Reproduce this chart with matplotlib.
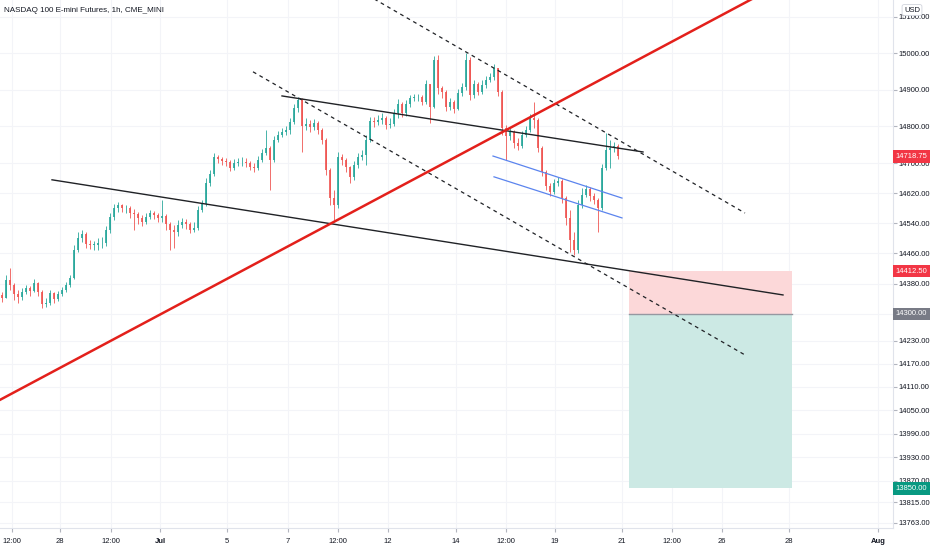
import numpy as np
import matplotlib
matplotlib.use("Agg")
import matplotlib.pyplot as plt
import matplotlib.transforms as mtrans
from matplotlib.patches import Rectangle
from matplotlib.ticker import FixedLocator, NullLocator

plt.rcParams['font.family'] = ['Liberation Sans', 'DejaVu Sans']

# NQ1! hourly candles (one candle per ~2.75h, bar index on x)
first_open = 14349
closes = [14342.5, 14390, 14376.5, 14353, 14345, 14358, 14369, 14361, 14382, 14358,
          14326.5, 14329, 14355.5, 14340, 14353, 14363.5, 14376.5, 14395, 14469, 14501,
          14511.5, 14485, 14482.5, 14482.5, 14487.5, 14487.5, 14522, 14557, 14581, 14589,
          14581, 14581, 14567.5, 14565, 14554, 14543.5, 14557, 14567.5, 14562, 14554,
          14559.5, 14538, 14522, 14517, 14535.5, 14543.5, 14538, 14522, 14527.5, 14575.5,
          14591.5, 14648, 14672, 14717.5, 14712, 14707, 14704, 14688, 14701.5, 14704,
          14704, 14701.5, 14690.5, 14688, 14709.5, 14728.5, 14742, 14709.5, 14763.5, 14777,
          14785.5, 14790.5, 14812.5, 14850.5, 14872, 14801.5, 14807, 14799, 14809.5, 14790.5,
          14763.5, 14682.5, 14607.5, 14589, 14717.5, 14709.5, 14690.5, 14664, 14696, 14717.5,
          14723, 14763.5, 14815, 14812.5, 14818, 14823, 14804, 14807, 14837, 14861.5,
          14837, 14861.5, 14877.5, 14880.5, 14880.5, 14867, 14916, 14853, 14981.5, 14905,
          14894, 14853, 14867, 14848, 14891.5, 14907.5, 14981.5, 14886, 14916, 14894,
          14913, 14927, 14935, 14959.5, 14894, 14796, 14774.5, 14785.5, 14755.5, 14747.5,
          14777, 14790.5, 14823, 14818, 14742, 14677, 14640, 14623.5, 14648, 14653,
          14607.5, 14554, 14495.5, 14469, 14589, 14615.5, 14631.5, 14613, 14602, 14581,
          14688, 14736.5, 14742, 14747.5, 14718.75]
highs = [14358, 14403, 14421.5, 14382, 14363.5, 14369, 14376.5, 14374, 14392.5, 14384.5,
         14363.5, 14342.5, 14363.5, 14358, 14361, 14371.5, 14384.5, 14403, 14482.5, 14517,
         14522, 14517, 14495.5, 14493, 14501, 14503.5, 14533, 14567.5, 14591.5, 14597,
         14591.5, 14589, 14586, 14578, 14570, 14562, 14567.5, 14575.5, 14573, 14567.5,
         14602, 14565, 14543.5, 14535.5, 14549, 14554, 14551.5, 14543.5, 14543.5, 14586,
         14602, 14661, 14682.5, 14728.5, 14723, 14717.5, 14715, 14709.5, 14712, 14715,
         14717.5, 14715, 14707, 14701.5, 14720, 14739, 14790.5, 14747.5, 14774.5, 14788,
         14796, 14801.5, 14823, 14861.5, 14880.5, 14877.5, 14823, 14818, 14820.5, 14815,
         14796, 14769, 14688, 14629, 14731, 14726, 14715, 14693.5, 14707, 14728.5,
         14736.5, 14777, 14826, 14826, 14831.5, 14837, 14828.5, 14823, 14848, 14875,
         14867, 14872, 14886, 14888.5, 14888.5, 14886, 14927, 14916, 14992.5, 14995,
         14910.5, 14899.5, 14877.5, 14872, 14902, 14918.5, 15001, 14990, 14927, 14921.5,
         14927, 14938, 14946, 14970.5, 14959.5, 14899.5, 14804, 14799, 14790.5, 14769,
         14788, 14801.5, 14834, 14867, 14823, 14747.5, 14682.5, 14648, 14658.5, 14664,
         14658.5, 14613, 14575.5, 14517, 14602, 14634.5, 14642.5, 14637, 14621, 14607.5,
         14699, 14782.5, 14763.5, 14758, 14753]
lows = [14332, 14342.5, 14363.5, 14337, 14329, 14337, 14353, 14348, 14358, 14348,
        14316, 14319, 14324, 14329, 14334.5, 14348, 14358, 14371.5, 14392.5, 14464,
        14490.5, 14474.5, 14472, 14469, 14469, 14474.5, 14480, 14514, 14549, 14570,
        14570, 14567.5, 14554, 14522, 14538, 14533, 14538, 14551.5, 14551.5, 14543.5,
        14543.5, 14522, 14469, 14474.5, 14506, 14527.5, 14525, 14514, 14517, 14522,
        14570, 14586, 14640, 14666.5, 14701.5, 14696, 14693.5, 14680, 14682.5, 14693.5,
        14693.5, 14691, 14682.5, 14677, 14682.5, 14704, 14723, 14629, 14704, 14758,
        14771.5, 14777, 14780, 14807, 14839.5, 14731, 14790.5, 14785.5, 14790.5, 14780,
        14753, 14669, 14589, 14549, 14581, 14696, 14677, 14648, 14656, 14688,
        14709.5, 14696, 14758, 14799, 14804, 14807, 14793.5, 14796, 14801.5, 14823,
        14826, 14828.5, 14853, 14869.5, 14869.5, 14858.5, 14861.5, 14810, 14850.5, 14888.5,
        14877.5, 14842.5, 14845, 14837, 14845, 14883, 14899.5, 14872, 14877.5, 14886,
        14888.5, 14905, 14921.5, 14927, 14883, 14777, 14709.5, 14763.5, 14742, 14736.5,
        14742, 14771.5, 14785.5, 14796, 14731, 14666.5, 14629, 14613, 14618.5, 14640,
        14594, 14535.5, 14464, 14456, 14461, 14581, 14610.5, 14599.5, 14591.5, 14517,
        14575.5, 14682.5, 14688, 14731, 14712]

# time axis labels (bar index positions)
tick_pos = [2.5, 14.5, 27.25, 39.5, 56.25, 71.5, 84, 96.5, 113.5, 126, 138.25, 155, 167.5, 180, 196.75, 219]
tick_txt = ["12:00", "28", "12:00", "Jul", "5", "7", "12:00", "12", "14", "12:00", "19", "21", "12:00", "26", "28", "Aug"]
price_ticks = [15100, 15000, 14900, 14800, 14700, 14620, 14540, 14460, 14380, 14300, 14230,
               14170, 14110, 14050, 13990, 13930, 13870, 13815, 13763]

# drawings: (bars, prices)
red_line = ([-3, 200], [14063, 15224])
lower_line = ([12.5, 195.25], [14656, 14350])
upper_line = ([70, 160.25], [14883, 14731])
dash_top = ([91, 185.75], [15163, 14567])
dash_bottom = ([62.75, 185.75], [14949, 14193])
blue_top = ([122.75, 155], [14720, 14607])
blue_bottom = ([123, 155], [14664, 14554])
entry, stop, target = 14300, 14412.5, 13850
box_x = [156.75, 197.5]
last_price = 14718.75

closes = np.array(closes)
highs = np.array(highs)
lows = np.array(lows)
opens = np.r_[first_open, closes[:-1]]
x = np.arange(len(closes))

fig = plt.figure(figsize=(9.32, 5.5), dpi=100)
ax = fig.add_axes([0, 22 / 550, 893 / 932, 528 / 550])
ax.set_yscale('log')

# position box
ax.add_patch(Rectangle((box_x[0], entry), box_x[1] - box_x[0], stop - entry,
                       fc='#fcd8d9', ec='none', zorder=1))
ax.add_patch(Rectangle((box_x[0], target), box_x[1] - box_x[0], entry - target,
                       fc='#cce9e4', ec='none', zorder=1))
ax.plot(box_x, [entry, entry], color='#9598a1', lw=1, zorder=2)

# candles
up = closes >= opens
col = np.where(up, '#26a69a', '#ef5350')
body_lo = np.minimum(opens, closes)
body_hi = np.maximum(opens, closes)
ax.vlines(x, np.minimum(lows, body_lo), np.maximum(highs, body_hi), colors=col, lw=0.7, alpha=0.85, zorder=3)
ax.bar(x, np.maximum(body_hi - body_lo, 0.8), bottom=body_lo, width=0.55, color=col, lw=0, alpha=0.85, zorder=3)

# trend lines
ax.plot(*red_line, color='#e3201b', lw=1.8, zorder=5)
ax.plot(*lower_line, color='#202226', lw=1.0, zorder=4)
ax.plot(*upper_line, color='#202226', lw=1.0, zorder=4)
ax.plot(*dash_top, color='#202226', lw=0.9, dashes=(3, 3), zorder=4)
ax.plot(*dash_bottom, color='#202226', lw=0.9, dashes=(3, 3), zorder=4)
ax.plot(*blue_top, color='#5b84ee', lw=0.9, zorder=4)
ax.plot(*blue_bottom, color='#5b84ee', lw=0.9, zorder=4)

ax.set_xlim(-0.5, 222.75)
ax.set_ylim(13750, 15147)

# axes styling
ax.yaxis.tick_right()
ax.yaxis.set_major_locator(FixedLocator(price_ticks))
ax.yaxis.set_minor_locator(NullLocator())
# 14300 sits under its own scale label
ax.set_yticklabels(["" if p == entry else "%.2f" % p for p in price_ticks])
ax.set_xticks(tick_pos)
ax.set_xticklabels(tick_txt)
for lbl in ax.get_xticklabels():
    if lbl.get_text() in ("Jul", "Aug"):
        lbl.set_fontweight('bold')
ax.tick_params(axis='both', length=3, color='#b2b5be', labelsize=5.5, labelcolor='#131722', pad=1)
ax.tick_params(axis='x', pad=4)
ax.grid(True, color='#f3f4f8', lw=0.8)
ax.set_axisbelow(True)
for s in ('top', 'left'):
    ax.spines[s].set_visible(False)
for s in ('right', 'bottom'):
    ax.spines[s].set_color('#e0e3eb')
    ax.spines[s].set_linewidth(0.8)

# price labels on the scale
trans = mtrans.blended_transform_factory(ax.transAxes, ax.transData)
for val, fc in [(last_price, '#f23645'), (stop, '#f23645'), (entry, '#787b86'), (target, '#089981')]:
    ax.text(1.003, val, "%.2f" % val, transform=trans, ha='left', va='center', fontsize=5.5,
            color='white', clip_on=False, zorder=10,
            bbox=dict(boxstyle='square,pad=0.35', fc=fc, ec='none'))

ax.text(0.005, 1 - 10 / 528, "NASDAQ 100 E-mini Futures, 1h, CME_MINI", transform=ax.transAxes,
        ha='left', va='center', fontsize=5.8, color='#131722', zorder=10)
fig.text(912 / 932, 1 - 10 / 550, "USD", ha='center', va='center', fontsize=5.5, color='#131722',
         zorder=10, bbox=dict(boxstyle='round,pad=0.25', fc='white', ec='#d1d4dc', lw=0.6))

fig.savefig("out.png", dpi=100, facecolor='white')
